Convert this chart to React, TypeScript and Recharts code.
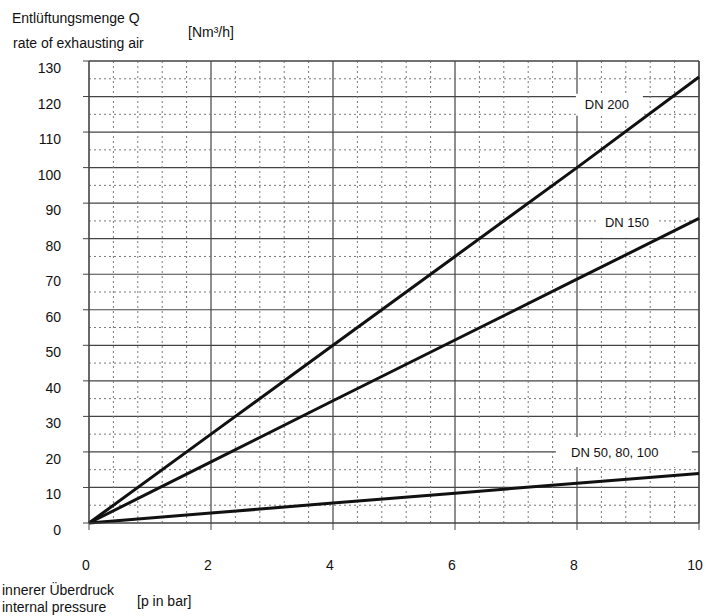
import React from 'react';
import {
  LineChart,
  Line,
  XAxis,
  YAxis,
  CartesianGrid,
  ReferenceLine,
  ReferenceDot,
} from 'recharts';

// pressure p in bar
const pressure = [0, 2, 4, 6, 8, 10];
// exhausting air Q in Nm3/h
const dn200 = [0, 25, 50, 75, 100, 125.5];
const dn150 = [0, 17.2, 34.4, 51.5, 68.6, 85.7];
const dn50 = [0, 2.8, 5.6, 8.4, 11.2, 13.9];

const xTicks = [0, 2, 4, 6, 8, 10];
const yTicks = [0, 10, 20, 30, 40, 50, 60, 70, 80, 90, 100, 110, 120, 130];
const xMinor = [0.4, 0.8, 1.2, 1.6, 2.4, 2.8, 3.2, 3.6, 4.4, 4.8, 5.2, 5.6, 6.4, 6.8, 7.2, 7.6, 8.4, 8.8, 9.2, 9.6];
const yMinor = [5, 15, 25, 35, 45, 55, 65, 75, 85, 95, 105, 115, 125];

const curveLabels = ['DN 200', 'DN 150', 'DN 50, 80, 100'];
const labelAtP = [8.49, 8.82, 8.62];
const labelAtQ = [117.7, 84.5, 19.7];

const data = pressure.map((p, i) => ({
  p,
  dn200: dn200[i],
  dn150: dn150[i],
  dn50: dn50[i],
}));

const FONT = '"Liberation Sans", Arial, sans-serif';
const INK = '#111';
const GRID = '#444';
const DOTS = '#777';

// white box behind each curve label: [left, right, top, bottom] relative to text centre
const boxes = [
  [-31, 36, -11, 11],
  [-29, 29, -18, 15],
  [-59, 77, -16, 14],
];

const YTick = (props: any) => {
  const { x, y, payload } = props;
  return (
    <text x={x} y={y + 7} textAnchor="end" dominantBaseline="central" fontSize={14} fill={INK} fontFamily={FONT}>
      {payload.value}
    </text>
  );
};

const XTick = (props: any) => {
  const { x, y, payload } = props;
  return (
    <text x={x - 3} y={y} textAnchor="middle" dominantBaseline="central" fontSize={14} fill={INK} fontFamily={FONT}>
      {payload.value}
    </text>
  );
};

const makeLabel = (i: number) => (props: any) => {
  const { cx, cy } = props;
  const b = boxes[i];
  return (
    <g>
      <rect x={cx + b[0]} y={cy + b[2]} width={b[1] - b[0]} height={b[3] - b[2]} fill="#fff" />
      <text x={cx} y={cy} textAnchor="middle" dominantBaseline="central" fontSize={13} fill={INK} fontFamily={FONT}>
        {curveLabels[i]}
      </text>
    </g>
  );
};

const textStyle: React.CSSProperties = {
  position: 'absolute',
  fontFamily: FONT,
  fontSize: 14,
  lineHeight: '16px',
  color: INK,
  whiteSpace: 'nowrap',
};

export default function App() {
  // page-sized frame so nothing scrolls; texts are placed in page pixels
  return (
    <div style={{ position: 'absolute', left: 0, top: 0, width: 706, height: 616, overflow: 'hidden', background: '#fff' }}>
      <div style={{ ...textStyle, left: 12, top: 10 }}>Entlüftungsmenge Q</div>
      <div style={{ ...textStyle, left: 13, top: 35 }}>rate of exhausting air</div>
      <div style={{ ...textStyle, left: 188, top: 24 }}>[Nm³/h]</div>
      <div style={{ ...textStyle, left: 2, top: 582 }}>innerer Überdruck</div>
      <div style={{ ...textStyle, left: 2, top: 599 }}>internal pressure</div>
      <div style={{ ...textStyle, left: 137, top: 593 }}>[p in bar]</div>
      <div style={{ position: 'absolute', left: 8, top: 8 }}>
        <LineChart
          width={698}
          height={600}
          data={data}
          margin={{ top: 53, right: 7, bottom: 35, left: 21 }}
        >
          {xMinor.map((v) => (
            <ReferenceLine key={'x' + v} x={v} stroke={DOTS} strokeDasharray="2 3" />
          ))}
          {yMinor.map((v) => (
            <ReferenceLine key={'y' + v} y={v} stroke={DOTS} strokeDasharray="2 3" />
          ))}
          <CartesianGrid stroke={GRID} strokeWidth={1.2} />
          <XAxis
            dataKey="p"
            type="number"
            domain={[0, 10]}
            ticks={xTicks}
            height={50}
            tickSize={7}
            tickMargin={35}
            stroke={GRID}
            tickLine={{ stroke: GRID }}
            tick={<XTick />}
          />
          <YAxis
            type="number"
            domain={[0, 130]}
            ticks={yTicks}
            width={60}
            tickSize={6}
            tickMargin={22}
            stroke={GRID}
            tickLine={{ stroke: GRID }}
            tick={<YTick />}
          />
          <ReferenceLine x={10} stroke={GRID} strokeWidth={1.2} />
          <ReferenceLine y={130} stroke={GRID} strokeWidth={1.2} />
          <Line dataKey="dn200" stroke={INK} strokeWidth={3} dot={false} isAnimationActive={false} />
          <Line dataKey="dn150" stroke={INK} strokeWidth={3} dot={false} isAnimationActive={false} />
          <Line dataKey="dn50" stroke={INK} strokeWidth={3} dot={false} isAnimationActive={false} />
          {curveLabels.map((_, i) => (
            <ReferenceDot key={i} x={labelAtP[i]} y={labelAtQ[i]} r={0} shape={makeLabel(i)} />
          ))}
        </LineChart>
      </div>
    </div>
  );
}
